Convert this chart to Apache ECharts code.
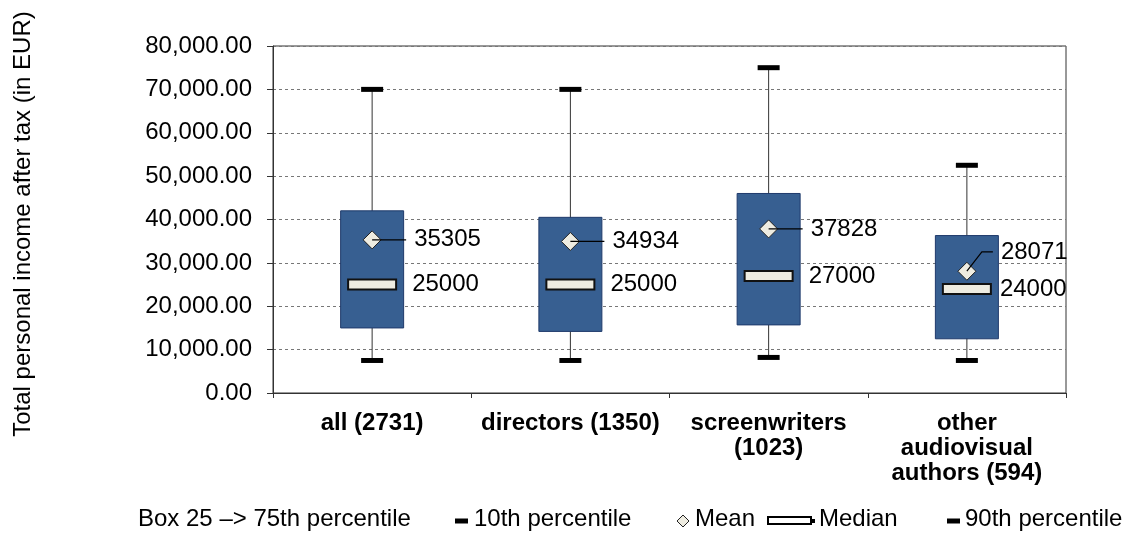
<!DOCTYPE html>
<html>
<head>
<meta charset="utf-8">
<script src="https://cdn.jsdelivr.net/npm/echarts@6/dist/echarts.min.js"></script>
<style>
html,body{margin:0;padding:0;background:#fff;}
#chart{width:1126px;height:536px;}
</style>
</head>
<body>
<div id="chart"></div>
<script>
// ---- data ----
const categories = ['all (2731)', 'directors (1350)', 'screenwriters\n(1023)', 'other\naudiovisual\nauthors (594)'];
const p10    = [7500, 7500, 8200, 7500];
const q1     = [15000, 14200, 15700, 12500];
const median = [25000, 25000, 27000, 24000];
const q3     = [42000, 40500, 46000, 36300];
const p90    = [70000, 70000, 75000, 52500];
const mean   = [35305, 34934, 37828, 28071];
const yTicks = [0, 10000, 20000, 30000, 40000, 50000, 60000, 70000, 80000];
const yTitle = 'Total personal income after tax (in EUR)';

const FONT = "'Liberation Sans', Arial, Helvetica, sans-serif";
const FS = 24;
const seriesData = categories.map((c, i) => [i, p10[i], q1[i], median[i], q3[i], p90[i], mean[i]]);

function fmt(v) {
  return Math.round(v).toString().replace(/\B(?=(\d{3})+(?!\d))/g, ',') + '.00';
}

const chart = echarts.init(document.getElementById('chart'), null, {renderer: 'canvas'});

function renderItem(params, api) {
  const i = api.value(0);
  const cx = api.coord([i, 0])[0];
  const y = k => api.coord([i, api.value(k)])[1];
  const yP10 = y(1), yQ1 = y(2), yMed = y(3), yQ3 = y(4), yP90 = y(5), yMean = y(6);
  const boxW = 63, capW = 22, capH = 5, medW = 48, medH = 10, d = 9;
  const crowded = Math.abs(yMean - yMed) < 28;
  const children = [];
  children.push({type: 'line', shape: {x1: cx, y1: yP90, x2: cx, y2: yP10},
    style: {stroke: '#333', lineWidth: 1}});
  children.push({type: 'rect', shape: {x: cx - capW / 2, y: yP90 - capH / 2, width: capW, height: capH},
    style: {fill: '#000'}});
  children.push({type: 'rect', shape: {x: cx - capW / 2, y: yP10 - capH / 2, width: capW, height: capH},
    style: {fill: '#000'}});
  children.push({type: 'rect', shape: {x: cx - boxW / 2, y: yQ3, width: boxW, height: yQ1 - yQ3},
    style: {fill: '#375f91', stroke: '#1f3a6b', lineWidth: 1}});
  children.push({type: 'rect', shape: {x: cx - medW / 2, y: yMed - medH / 2, width: medW, height: medH},
    style: {fill: '#eeece1', stroke: '#111', lineWidth: 2}});
  let labX, labY;
  children.push({type: 'polygon', shape: {points: [[cx, yMean - d], [cx + d, yMean], [cx, yMean + d], [cx - d, yMean]]},
    style: {fill: '#eeece1', stroke: '#222', lineWidth: 1}});
  if (crowded) {
    labY = yMed - 37;
    children.push({type: 'polyline', shape: {points: [[cx, yMean], [cx + 15, labY], [cx + 26, labY]]},
      style: {stroke: '#000', lineWidth: 1.2, fill: null}});
    labX = cx + 34;
  } else {
    labY = yMean;
    children.push({type: 'line', shape: {x1: cx, y1: yMean, x2: cx + 34, y2: yMean},
      style: {stroke: '#000', lineWidth: 1.2}});
    labX = cx + 42;
  }
  children.push({type: 'text', x: labX, y: labY,
    style: {text: String(api.value(6)), font: FS + 'px ' + FONT, fill: '#000', verticalAlign: 'middle', align: 'left'}});
  children.push({type: 'text', x: crowded ? cx + 33 : cx + 40, y: yMed,
    style: {text: String(api.value(3)), font: FS + 'px ' + FONT, fill: '#000', verticalAlign: 'middle', align: 'left'}});
  return {type: 'group', children};
}

const legendY = 521;
const LF = FS + 'px ' + FONT;
const option = {
  animation: false,
  backgroundColor: '#fff',
  grid: {left: 273, right: 60, top: 46, bottom: 143, show: true, borderColor: '#333', borderWidth: 1,
    backgroundColor: 'transparent', containLabel: false, outerBoundsMode: 'none'},
  xAxis: {
    type: 'category',
    data: categories,
    axisLine: {lineStyle: {color: '#333', width: 1}},
    axisTick: {show: true, length: 5, lineStyle: {color: '#333'}},
    axisLabel: {color: '#000', fontFamily: FONT, fontSize: FS, fontWeight: 'bold', lineHeight: 25, margin: 18, interval: 0}
  },
  yAxis: {
    type: 'value',
    min: 0, max: 80000, interval: 10000,
    axisLine: {show: true, lineStyle: {color: '#333', width: 1}},
    axisTick: {show: true, length: 6, lineStyle: {color: '#333'}},
    axisLabel: {color: '#000', fontFamily: FONT, fontSize: FS, margin: 21,
      formatter: v => yTicks.indexOf(v) >= 0 ? fmt(v) : ''},
    splitLine: {show: true, lineStyle: {color: '#777', type: [3, 3], width: 1}}
  },
  series: [{
    type: 'custom',
    renderItem: renderItem,
    data: seriesData,
    encode: {x: 0, y: [1, 5]},
    clip: false
  }],
  graphic: [
    {type: 'text', x: 23, y: 224, rotation: Math.PI / 2,
      style: {text: yTitle, font: LF, fill: '#000', align: 'center', verticalAlign: 'middle'}},
    {type: 'text', left: 138, top: legendY - 14, style: {text: 'Box 25 –> 75th percentile', font: LF, fill: '#000'}},
    {type: 'rect', shape: {x: 455, y: legendY - 2.5, width: 13, height: 5}, style: {fill: '#000'}},
    {type: 'text', left: 474, top: legendY - 14, style: {text: '10th percentile', font: LF, fill: '#000'}},
    {type: 'polygon', shape: {points: [[683, legendY - 6], [689, legendY], [683, legendY + 6], [677, legendY]]}, style: {fill: '#eeece1', stroke: '#222', lineWidth: 1}},
    {type: 'text', left: 695, top: legendY - 14, style: {text: 'Mean', font: LF, fill: '#000'}},
    {type: 'rect', shape: {x: 768, y: legendY - 4, width: 43, height: 7}, style: {fill: '#fff', stroke: '#000', lineWidth: 2}},
    {type: 'rect', shape: {x: 811, y: legendY - 2, width: 4, height: 4}, style: {fill: '#000'}},
    {type: 'text', left: 819, top: legendY - 14, style: {text: 'Median', font: LF, fill: '#000'}},
    {type: 'rect', shape: {x: 947, y: legendY - 2.5, width: 13, height: 5}, style: {fill: '#000'}},
    {type: 'text', left: 965, top: legendY - 14, style: {text: '90th percentile', font: LF, fill: '#000'}}
  ]
};
chart.setOption(option);
</script>
</body>
</html>
